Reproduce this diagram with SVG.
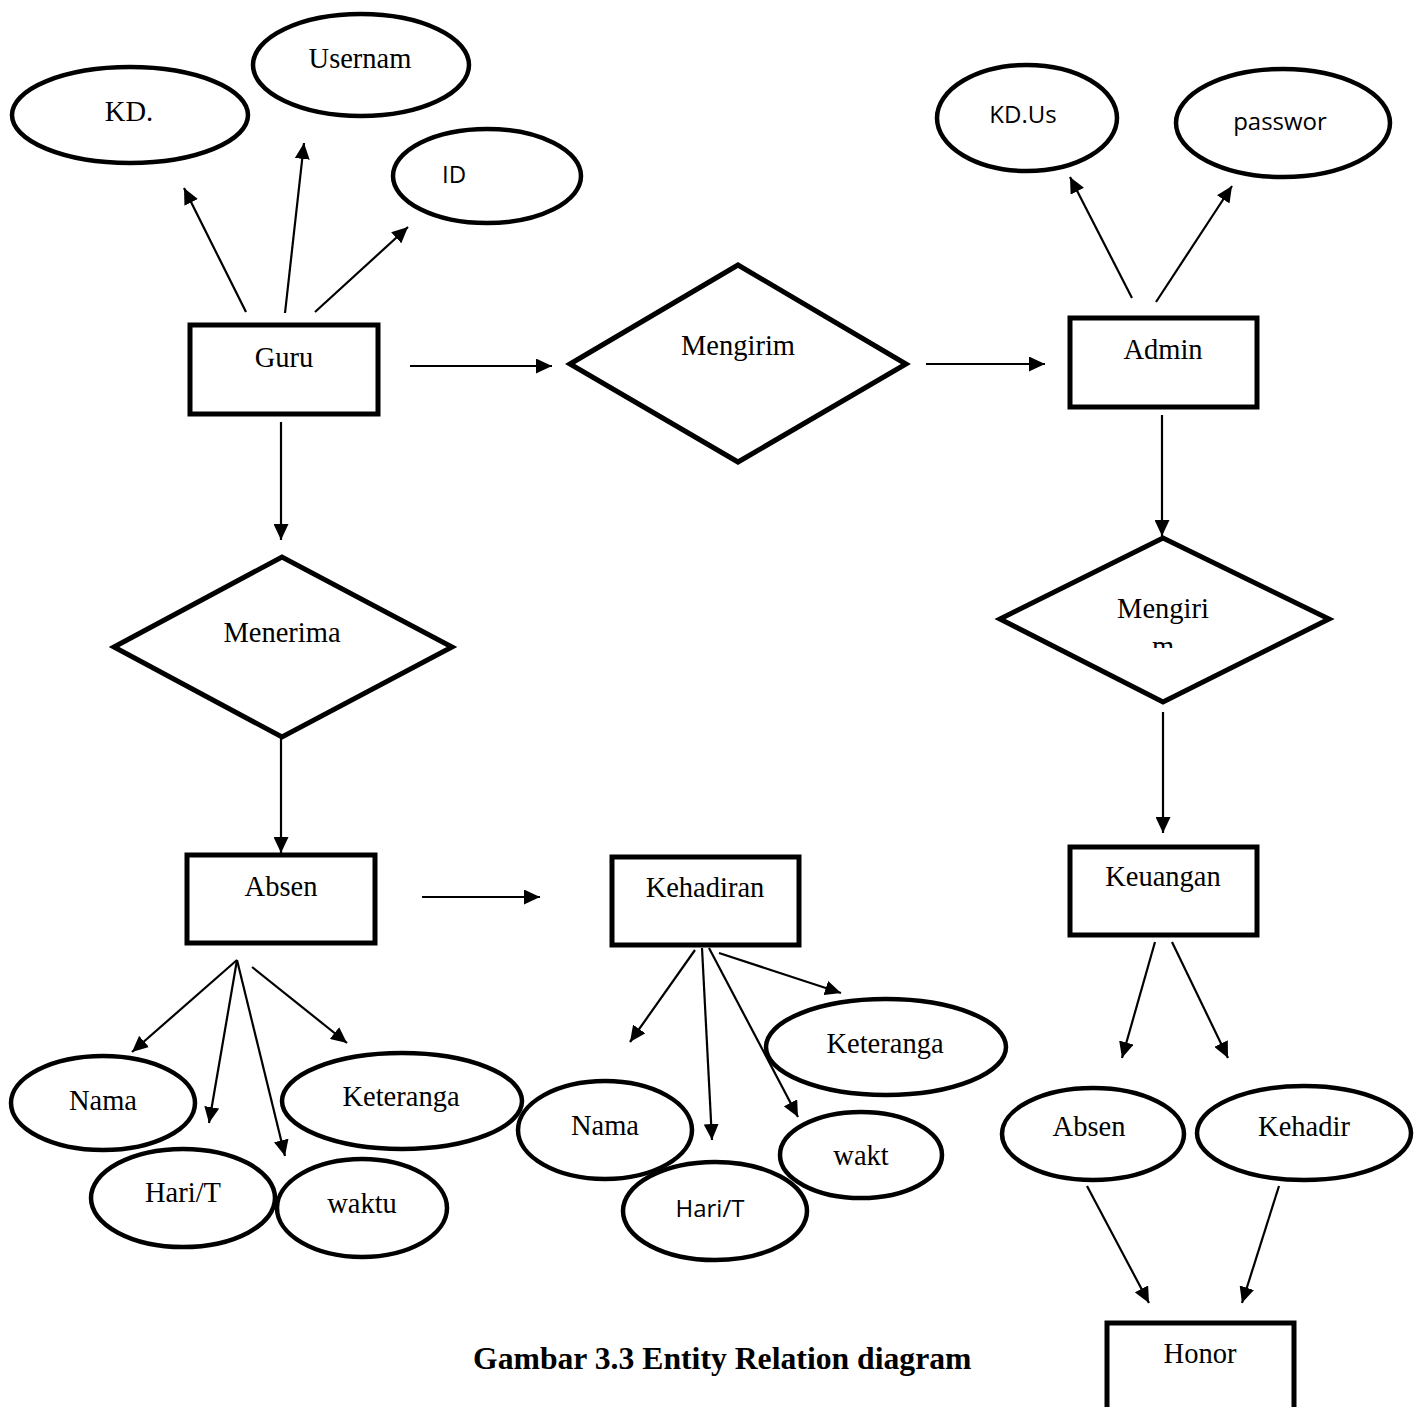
<svg xmlns="http://www.w3.org/2000/svg" width="1424" height="1407" viewBox="0 0 1424 1407">
<style>
.ent{fill:#fff;stroke:#000;stroke-width:5}
.att{fill:#fff;stroke:#000;stroke-width:4.5}
.rel{fill:#fff;stroke:#000;stroke-width:5}
.c{fill:none;stroke:#000;stroke-width:2.2;marker-end:url(#ah)}
.t{font-family:"Liberation Serif","Times New Roman",serif;font-size:28.5px;text-anchor:middle;fill:#000}
.s{font-family:"Open Sans","Liberation Sans",sans-serif;font-size:24px;text-anchor:middle;fill:#000}
.title{font-family:"Liberation Serif","Times New Roman",serif;font-size:31.7px;font-weight:bold;fill:#000}
</style>
<defs>
<marker id="ah" markerUnits="userSpaceOnUse" markerWidth="17" markerHeight="15" refX="16" refY="7.5" orient="auto">
<path d="M0,0 L16,7.5 L0,15 z" fill="#000"/>
</marker>
<clipPath id="clipM"><rect x="1100" y="560" width="130" height="88"/></clipPath>
</defs>
<rect width="1424" height="1407" fill="#fff"/>
<g id="connectors">
<line class="c" x1="246" y1="312" x2="184" y2="188"/>
<line class="c" x1="285" y1="313" x2="304" y2="143"/>
<line class="c" x1="315" y1="312" x2="408" y2="227"/>
<line class="c" x1="410" y1="366" x2="552" y2="366"/>
<line class="c" x1="926" y1="364" x2="1045" y2="364"/>
<line class="c" x1="1132" y1="298" x2="1070" y2="177"/>
<line class="c" x1="1156" y1="302" x2="1232" y2="186"/>
<line class="c" x1="1162" y1="415" x2="1162" y2="536"/>
<line class="c" x1="1163" y1="712" x2="1163" y2="833"/>
<line class="c" x1="1155" y1="942" x2="1122" y2="1058"/>
<line class="c" x1="1172" y1="942" x2="1228" y2="1058"/>
<line class="c" x1="1087" y1="1186" x2="1149" y2="1303"/>
<line class="c" x1="1279" y1="1186" x2="1242" y2="1303"/>
<line class="c" x1="281" y1="422" x2="281" y2="540"/>
<line class="c" x1="281" y1="737" x2="281" y2="853"/>
<line class="c" x1="422" y1="897" x2="540" y2="897"/>
<line class="c" x1="237" y1="960" x2="132" y2="1052"/>
<line class="c" x1="237" y1="960" x2="209" y2="1123"/>
<line class="c" x1="237" y1="960" x2="285" y2="1156"/>
<line class="c" x1="252" y1="967" x2="347" y2="1043"/>
<line class="c" x1="695" y1="950" x2="630" y2="1042"/>
<line class="c" x1="702" y1="948" x2="712" y2="1140"/>
<line class="c" x1="709" y1="948" x2="798" y2="1117"/>
<line class="c" x1="719" y1="953" x2="841" y2="993"/>
</g>
<g id="kdguru"><ellipse class="att" cx="130" cy="115" rx="118" ry="48"/><text class="t" x="129" y="121">KD.</text></g>
<g id="usernam"><ellipse class="att" cx="361" cy="65" rx="108" ry="51"/><text class="t" x="360" y="68">Usernam</text></g>
<g id="id"><ellipse class="att" cx="487" cy="176" rx="94" ry="47"/><text class="s" x="454" y="183">ID</text></g>
<g id="guru"><rect class="ent" x="190" y="325" width="188" height="89"/><text class="t" x="284" y="367">Guru</text></g>
<g id="mengirim"><polygon class="rel" points="570,364 738,265 906,364 738,462"/><text class="t" x="738" y="355">Mengirim</text></g>
<g id="admin"><rect class="ent" x="1070" y="318" width="187" height="89"/><text class="t" x="1163" y="359">Admin</text></g>
<g id="kdus"><ellipse class="att" cx="1027" cy="118" rx="90" ry="53"/><text class="s" x="1023" y="123">KD.Us</text></g>
<g id="password"><ellipse class="att" cx="1283" cy="123" rx="107" ry="54"/><text class="s" x="1280" y="130">passwor</text></g>
<g id="mengirim2"><polygon class="rel" points="1000,619 1163,538 1329,619 1163,702"/><text class="t" x="1163" y="618">Mengiri</text><text class="t" x="1163" y="656" clip-path="url(#clipM)">m</text></g>
<g id="keuangan"><rect class="ent" x="1070" y="847" width="187" height="88"/><text class="t" x="1163" y="886">Keuangan</text></g>
<g id="absen-k"><ellipse class="att" cx="1093" cy="1134" rx="91" ry="46"/><text class="t" x="1089" y="1136">Absen</text></g>
<g id="kehadir-k"><ellipse class="att" cx="1304" cy="1133" rx="107" ry="47"/><text class="t" x="1304" y="1136">Kehadir</text></g>
<g id="honor"><rect class="ent" x="1107" y="1323" width="187" height="110"/><text class="t" x="1200" y="1363">Honor</text></g>
<g id="menerima"><polygon class="rel" points="114,647 282,557 452,647 282,737"/><text class="t" x="282" y="642">Menerima</text></g>
<g id="absen"><rect class="ent" x="187" y="855" width="188" height="88"/><text class="t" x="281" y="896">Absen</text></g>
<g id="kehadiran"><rect class="ent" x="612" y="857" width="187" height="88"/><text class="t" x="705" y="897">Kehadiran</text></g>
<g id="nama1"><ellipse class="att" cx="103" cy="1103" rx="92" ry="47"/><text class="t" x="103" y="1110">Nama</text></g>
<g id="keterangan1"><ellipse class="att" cx="402" cy="1101" rx="120" ry="48"/><text class="t" x="401" y="1106">Keteranga</text></g>
<g id="hari1"><ellipse class="att" cx="183" cy="1198" rx="92" ry="49"/><text class="t" x="183" y="1202">Hari/T</text></g>
<g id="waktu1"><ellipse class="att" cx="362" cy="1208" rx="85" ry="49"/><text class="t" x="362" y="1213">waktu</text></g>
<g id="keterangan2"><ellipse class="att" cx="886" cy="1047" rx="120" ry="48"/><text class="t" x="885" y="1053">Keteranga</text></g>
<g id="nama2"><ellipse class="att" cx="605" cy="1130" rx="87" ry="49"/><text class="t" x="605" y="1135">Nama</text></g>
<g id="waktu2"><ellipse class="att" cx="861" cy="1155" rx="81" ry="43"/><text class="t" x="861" y="1165">wakt</text></g>
<g id="hari2"><ellipse class="att" cx="715" cy="1211" rx="92" ry="49"/><text class="s" x="710" y="1217">Hari/T</text></g>
<text class="title" x="473" y="1369">Gambar 3.3 Entity Relation diagram</text>
</svg>
